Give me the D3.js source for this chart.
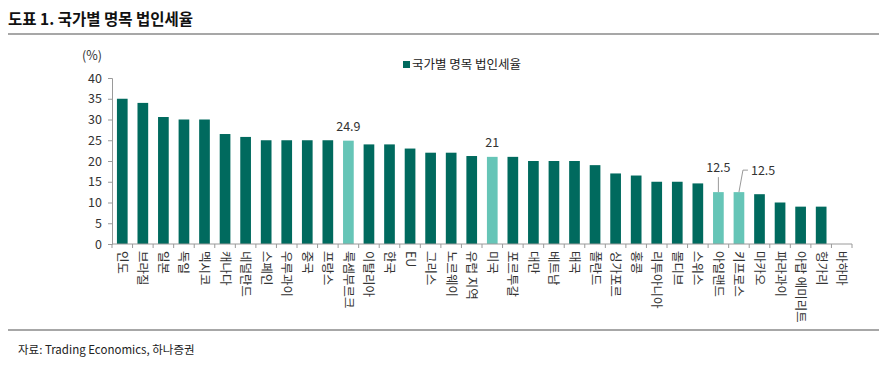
<!DOCTYPE html>
<html><head><meta charset="utf-8">
<script src="https://cdn.jsdelivr.net/npm/d3@7"></script>
<style>
body{margin:0;background:#fff;}
svg text{font-family:"Noto Sans CJK KR","Noto Sans",sans-serif;}
</style></head>
<body><svg id="c" width="879" height="365"></svg>
<script>
const categories = ["인도","브라질","일본","독일","멕시코","캐나다","네덜란드","스페인","우루과이","중국","프랑스","룩셈부르크","이탈리아","한국","EU","그리스","노르웨이","유럽 지역","미국","포르투갈","대만","베트남","태국","폴란드","싱가포르","홍콩","리투아니아","몰디브","스위스","아일랜드","키프로스","마카오","파라과이","아랍 에미리트","헝가리","바하마"];
const values = [35,34,30.6,30,30,26.5,25.8,25,25,25,25,24.9,24,24,23,22,22,21.2,21,21,20,20,20,19,17,16.5,15,15,14.6,12.5,12.5,12,10,9,9,0];
const highlighted = ["룩셈부르크","미국","아일랜드","키프로스"];
const yTicks = [0,5,10,15,20,25,30,35,40];
const seriesName = "국가별 명목 법인세율";
const title = "도표 1. 국가별 명목 법인세율";
const source = "자료: Trading Economics, 하나증권";

const svg = d3.select("#c");
const dark = "#006a5e", light = "#66c5b7";
const x = d3.scaleBand().domain(categories).range([112, 852]).paddingInner(0.48).paddingOuter(0.24);
const y = d3.scaleLinear().domain([0,40]).range([244, 78]);

// title & rules
svg.append("text").attr("x",8).attr("y",25).attr("font-size",15.5).attr("font-weight","bold").attr("fill","#111").text(title);
svg.append("line").attr("x1",8).attr("x2",879).attr("y1",34).attr("y2",34).attr("stroke","#8a8a8a").attr("stroke-width",1.5);
svg.append("line").attr("x1",8).attr("x2",879).attr("y1",330).attr("y2",330).attr("stroke","#8a8a8a").attr("stroke-width",1.5);
svg.append("text").attr("x",18).attr("y",354).attr("font-size",11.5).attr("fill","#222").text(source);

// y axis
const ya = svg.append("g").attr("transform","translate(112,0)").call(d3.axisLeft(y).tickValues(yTicks).tickSize(4).tickPadding(6));
ya.selectAll("text").attr("font-size",12.5).attr("fill","#333").style("font-family","'Noto Sans CJK KR',sans-serif");
ya.selectAll("line,path").attr("stroke","#9a9a9a");
svg.append("text").attr("x",82).attr("y",60).attr("font-size",12.5).attr("fill","#333").text("(%)");

// bars
svg.selectAll("rect.bar").data(categories).join("rect").attr("class","bar")
  .attr("x",d=>x(d)).attr("width",x.bandwidth())
  .attr("y",(d,i)=>y(values[i])).attr("height",(d,i)=>y(0)-y(values[i]))
  .attr("fill",d=>highlighted.includes(d)?light:dark);

// x axis
const xg = svg.append("g").attr("transform","translate(0,244)");
xg.append("line").attr("x1",112).attr("x2",852).attr("stroke","#9a9a9a");
const bounds = d3.range(categories.length+1).map(i=>112 + i*x.step()*(740/(x.step()*categories.length)));
xg.selectAll("line.t").data(bounds).join("line").attr("class","t").attr("x1",d=>d).attr("x2",d=>d).attr("y1",0).attr("y2",4).attr("stroke","#9a9a9a");
xg.selectAll("text").data(categories).join("text")
  .attr("transform",d=>`translate(${x(d)+x.bandwidth()/2-4.5},7) rotate(90)`)
  .attr("font-size",12.5).attr("fill","#333").attr("text-anchor","start")
  .text(d=>d);

// annotations
const xi = n => x(n)+x.bandwidth()/2;
const vi = n => values[categories.indexOf(n)];
svg.append("text").attr("x",xi("룩셈부르크")).attr("y",y(vi("룩셈부르크"))-10).attr("text-anchor","middle").attr("font-size",12.5).attr("fill","#333").text("24.9");
svg.append("text").attr("x",xi("미국")).attr("y",y(vi("미국"))-10).attr("text-anchor","middle").attr("font-size",12.5).attr("fill","#333").text("21");
svg.append("line").attr("x1",xi("아일랜드")).attr("x2",xi("아일랜드")).attr("y1",y(vi("아일랜드"))).attr("y2",y(vi("아일랜드"))-15).attr("stroke","#999");
svg.append("text").attr("x",xi("아일랜드")).attr("y",y(vi("아일랜드"))-20).attr("text-anchor","middle").attr("font-size",12.5).attr("fill","#333").text("12.5");
svg.append("polyline").attr("points",`${xi("키프로스")},${y(vi("키프로스"))} ${xi("키프로스")+4},${y(vi("키프로스"))-22} ${xi("키프로스")+9},${y(vi("키프로스"))-22}`).attr("fill","none").attr("stroke","#999");
svg.append("text").attr("x",xi("키프로스")+12).attr("y",y(vi("키프로스"))-17).attr("text-anchor","start").attr("font-size",12.5).attr("fill","#333").text("12.5");

// legend
svg.append("rect").attr("x",403).attr("y",61).attr("width",7).attr("height",7).attr("fill",dark);
svg.append("text").attr("x",412).attr("y",69).attr("font-size",12.5).attr("fill","#222").text(seriesName);
</script></body></html>
